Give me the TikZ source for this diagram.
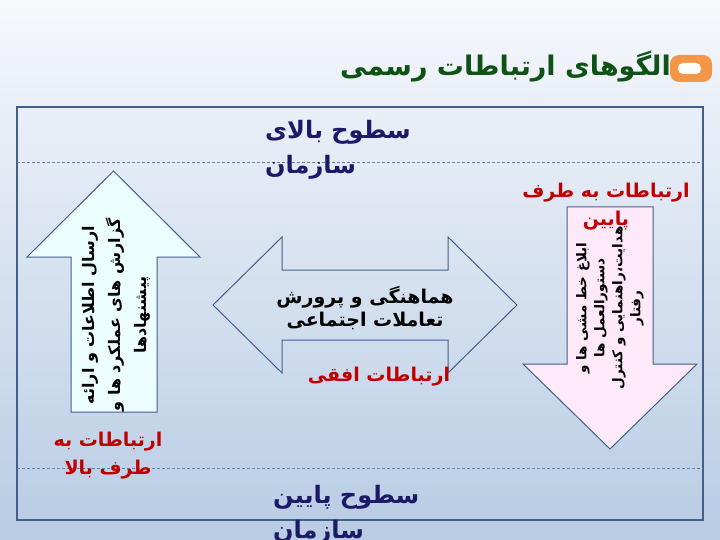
\documentclass[tikz,border=0pt]{standalone}
\usepackage{fontspec}
\setmainfont{DejaVu Sans}
\newfontfamily\fa[Script=Arabic]{DejaVu Sans}
\TeXXeTstate=1

\definecolor{bgtop}{RGB}{246,248,252}
\definecolor{bgbot}{RGB}{184,204,228}
\definecolor{framecol}{RGB}{68,96,136}
\definecolor{dashcol}{RGB}{92,128,176}
\definecolor{upfill}{RGB}{236,253,253}
\definecolor{downfill}{RGB}{253,233,247}
\definecolor{redtxt}{RGB}{192,0,0}
\definecolor{navytxt}{RGB}{28,26,102}
\definecolor{titlegreen}{RGB}{16,82,22}
\definecolor{iconorange}{RGB}{244,150,72}

\tikzset{
  frame/.style={draw=framecol, line width=1.4pt},
  levelline/.style={draw=dashcol, dash pattern=on 3pt off 2pt, line width=0.8pt},
  blockarrow/.style={draw=framecol, line width=1pt, line join=miter},
  titletxt/.style={inner sep=0pt, text=titlegreen, font=\fa\bfseries\fontsize{27}{32}\selectfont},
  leveltxt/.style={inner sep=0pt, align=left, text=navytxt, font=\fa\bfseries\fontsize{24}{35}\selectfont},
  redlabel/.style={inner sep=0pt, align=center, text=redtxt, font=\fa\bfseries\fontsize{19}{28}\selectfont},
  midtxt/.style={inner sep=0pt, align=center, font=\fa\bfseries\fontsize{19}{23}\selectfont},
  uptxt/.style={inner sep=0pt, align=center, rotate=90, font=\fa\bfseries\fontsize{16}{26}\selectfont},
  downtxt/.style={inner sep=0pt, align=center, rotate=90, font=\fa\bfseries\fontsize{13.5}{18}\selectfont}
}

\begin{document}
\begin{tikzpicture}[x=1pt, y=-1pt]
\useasboundingbox (0,0) rectangle (720,540);
\shade [top color=bgtop, bottom color=bgbot] (0,0) rectangle (720,540);

% title and icon
\node [titletxt, anchor=east] (title) at (671,67) {\beginR الگوهای ارتباطات رسمی\endR};
\fill [iconorange, rounded corners=9pt] (670,55) rectangle (712,82);
\fill [white, rounded corners=5pt] (678,63) rectangle (701,74);

%%%%%%%%%%%%%%%%%%%%%%%%%%%%%%%%%%%%%%%%

\draw [frame] (17,107) coordinate (nw) rectangle (703,520) coordinate (se);
\draw [levelline] (17,162) coordinate (topl) -- (703,162) coordinate (topr);
\draw [levelline] (17,468) coordinate (botl) -- (703,468) coordinate (botr);

% upward
\draw [blockarrow, fill=upfill]
     (113.5,171) coordinate (uptip)
  -- (200,257) -- (157,257) -- (157,412)
  -- (71,412) -- (71,257) -- (27,257) -- cycle;
\node [uptxt] (upnote) at (116,315)
  {\beginR ارسال اطلاعات و ارائه\endR\\
   \beginR گزارش های عملکرد ها و\endR\\
   \beginR پیشنهادها\endR};

% horizontal
\draw [blockarrow]
     (213,305) coordinate (lefttip)
  -- (282,237) -- (282,270) -- (448,270) -- (448,237)
  -- (517,305) coordinate (righttip)
  -- (448,373) -- (448,340) -- (282,340) -- (282,373) -- cycle;
\node [midtxt] (midnote) at (365,308)
  {\beginR هماهنگی و پرورش\endR\\ \beginR تعاملات اجتماعی\endR};

% downward
\draw [blockarrow, fill=downfill]
     (567,207) -- (653,207) -- (653,364) -- (697,364)
  -- (610,449) coordinate (downtip)
  -- (523,364) -- (567,364) -- cycle;
\node [downtxt] (downnote) at (610,308)
  {\beginR ابلاغ خط مشی ها و\endR\\
   \beginR دستورالعمل ها\endR\\
   \beginR هدایت،راهنمایی و کنترل\endR\\
   \beginR رفتار\endR};

% labels
\node [leveltxt, anchor=west] (toplevel) at (265,150)
  {\beginR سطوح بالای\endR\\ \beginR سازمان\endR};
\node [leveltxt, anchor=west] (botlevel) at (273,515)
  {\beginR سطوح پایین\endR\\ \beginR سازمان\endR};
\node [redlabel] (uplabel) at (108,456)
  {\beginR ارتباطات به\endR\\ \beginR طرف بالا\endR};
\node [redlabel] (midlabel) at (379,377) {\beginR ارتباطات افقی\endR};
\node [redlabel] (downlabel) at (606,207)
  {\beginR ارتباطات به طرف\endR\\ \beginR پایین\endR};

\end{tikzpicture}
\end{document}
